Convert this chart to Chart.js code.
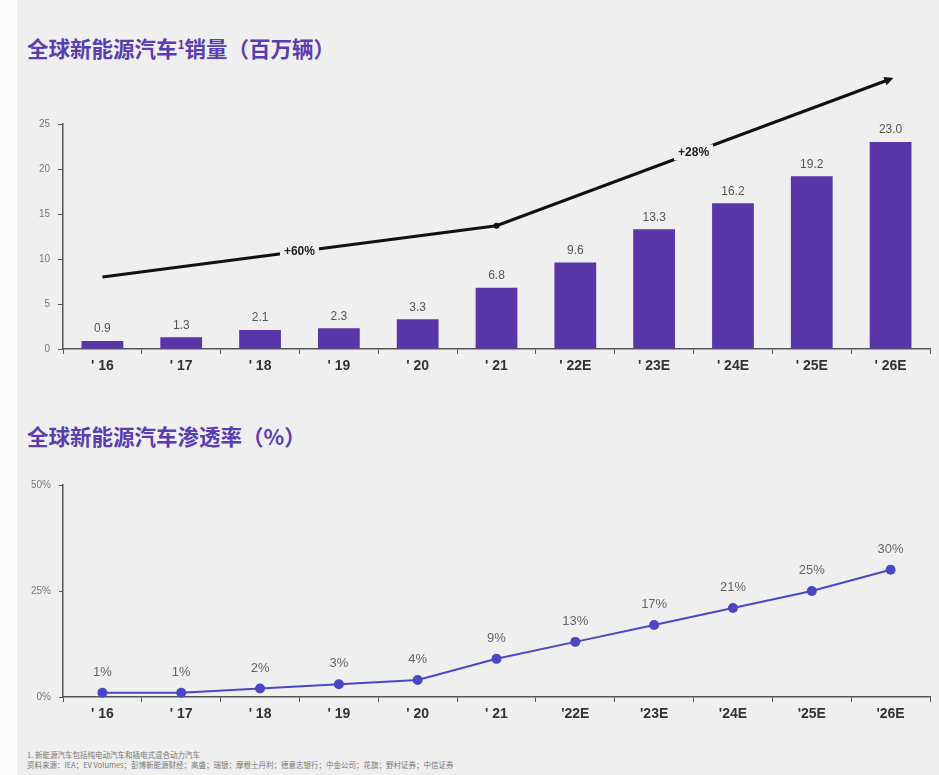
<!DOCTYPE html>
<html>
<head>
<meta charset="utf-8">
<script src="https://cdn.jsdelivr.net/npm/chart.js@4.4.1/dist/chart.umd.min.js"></script>
<style>
  body { margin: 0; width: 939px; height: 775px; background: #efefef; position: relative; overflow: hidden;
         font-family: "Liberation Sans", Arial, sans-serif; }
  .strip { position: absolute; left: 0; top: 0; width: 17px; height: 775px; background: #fcfcfc; }
  .title { position: absolute; left: 27px; font-family: "Noto Sans CJK SC", sans-serif; font-weight: 700;
           font-size: 21.5px; line-height: 24px; color: #5a3db0; white-space: nowrap; }
  .title sup { font-size: 12px; vertical-align: 8px; line-height: 0; }
  .box { position: absolute; left: 0; width: 939px; }
  .note { position: absolute; left: 27px; top: 750px; font-family: "Noto Sans CJK SC", sans-serif;
          font-size: 7.5px; line-height: 10px; color: #777; white-space: nowrap; }
</style>
</head>
<body>
<div class="strip"></div>
<div class="title" style="top:36px">全球新能源汽车<sup>1</sup>销量（百万辆）</div>
<div class="box" style="top:60px;height:330px"><canvas id="salesChart"></canvas></div>
<div class="title" style="top:424px">全球新能源汽车渗透率（%）</div>
<div class="box" style="top:460px;height:280px"><canvas id="shareChart"></canvas></div>
<div class="note">1. 新能源汽车包括纯电动汽车和插电式混合动力汽车<br>资料来源：IEA；EV Volumes；彭博新能源财经；高盛；瑞银；摩根士丹利；德意志银行；中金公司；花旗；野村证券；中信证券</div>

<script>
// 销量（百万辆）
const salesYears = ["' 16", "' 17", "' 18", "' 19", "' 20", "' 21", "' 22E", "' 23E", "' 24E", "' 25E", "' 26E"];
const salesValues = [0.9, 1.3, 2.1, 2.3, 3.3, 6.8, 9.6, 13.3, 16.2, 19.2, 23.0];
// CAGR 箭头：起点、转折点、终点
const trendValues = [8.0, null, null, null, null, 13.7, null, null, null, null, 30.0];
const cagrLabels = ['+60%', '+28%'];
const salesTicks = [0, 5, 10, 15, 20, 25];

// 渗透率（%）
const shareYears = ["' 16", "' 17", "' 18", "' 19", "' 20", "' 21", "'22E", "'23E", "'24E", "'25E", "'26E"];
const shareValues = [1, 1, 2, 3, 4, 9, 13, 17, 21, 25, 30];
const shareTicks = [0, 25, 50];

const BG = '#efefef';
const PURPLE = '#5836a8';
const BLUE = '#4a47c4';
const AXIS = '#555';

const xAxis = (h) => ({
  offset: true,
  afterFit: s => { s.height = h; },
  grid: { offset: true, drawOnChartArea: false, tickLength: 5, tickColor: AXIS },
  border: { color: AXIS, width: 1.5 },
  ticks: { color: '#333', font: { size: 14, weight: 'bold' }, padding: 4, maxRotation: 0 }
});

// 柱顶数值 + CAGR 标签 + 箭头
const salesLabels = {
  id: 'salesLabels',
  afterDatasetsDraw(chart) {
    const ctx = chart.ctx;
    const bars = chart.getDatasetMeta(0).data;
    ctx.save();
    ctx.font = '12px "Liberation Sans", Arial';
    ctx.fillStyle = '#555';
    ctx.textAlign = 'center';
    ctx.textBaseline = 'bottom';
    bars.forEach((b, i) => ctx.fillText(salesValues[i].toFixed(1), b.x, b.y - 6));

    const pts = chart.getDatasetMeta(1).data.filter((p, i) => trendValues[i] !== null);
    // arrow head at the last point
    const a = pts[pts.length - 2], e = pts[pts.length - 1];
    const ang = Math.atan2(e.y - a.y, e.x - a.x);
    ctx.translate(e.x, e.y);
    ctx.rotate(ang);
    ctx.fillStyle = '#111';
    ctx.beginPath();
    ctx.moveTo(3, 0);
    ctx.lineTo(-6, -4.5);
    ctx.lineTo(-6, 4.5);
    ctx.closePath();
    ctx.fill();
    ctx.setTransform(1, 0, 0, 1, 0, 0);

    ctx.font = 'bold 12px "Liberation Sans", Arial';
    ctx.textBaseline = 'middle';
    for (let k = 0; k < pts.length - 1; k++) {
      const mx = (pts[k].x + pts[k + 1].x) / 2;
      const my = (pts[k].y + pts[k + 1].y) / 2;
      const w = ctx.measureText(cagrLabels[k]).width + 8;
      ctx.fillStyle = BG;
      ctx.fillRect(mx - w / 2, my - 8, w, 16);
      ctx.fillStyle = '#222';
      ctx.fillText(cagrLabels[k], mx, my);
    }
    ctx.restore();
  }
};

new Chart(document.getElementById('salesChart'), {
  type: 'bar',
  data: {
    labels: salesYears,
    datasets: [{
      data: salesValues,
      backgroundColor: PURPLE,
      barPercentage: 0.53,
      categoryPercentage: 1.0,
      order: 2
    }, {
      type: 'line',
      data: trendValues,
      spanGaps: true,
      clip: false,
      borderColor: '#111',
      borderWidth: 3,
      pointRadius: ctx => ctx.dataIndex === 5 ? 3 : 0,
      pointBackgroundColor: '#111',
      pointBorderWidth: 0,
      order: 1
    }]
  },
  options: {
    responsive: true,
    maintainAspectRatio: false,
    animation: false,
    layout: { padding: { top: 64, right: 9, left: 0, bottom: 0 } },
    plugins: { legend: { display: false }, tooltip: { enabled: false } },
    scales: {
      x: xAxis(41),
      y: {
        min: 0, max: 25,
        afterFit: s => { s.width = 63; },
        afterBuildTicks: s => { s.ticks = salesTicks.map(v => ({ value: v })); },
        grid: { drawOnChartArea: false, tickLength: 5, tickColor: AXIS },
        border: { color: AXIS, width: 1.5 },
        ticks: { color: '#777', font: { size: 10 }, padding: 8 }
      }
    }
  },
  plugins: [salesLabels]
});

const shareLabels = {
  id: 'shareLabels',
  afterDatasetsDraw(chart) {
    const ctx = chart.ctx;
    ctx.save();
    ctx.font = '13px "Liberation Sans", Arial';
    ctx.fillStyle = '#666';
    ctx.textAlign = 'center';
    ctx.textBaseline = 'bottom';
    chart.getDatasetMeta(0).data.forEach((p, i) => ctx.fillText(shareValues[i] + '%', p.x, p.y - 14));
    ctx.restore();
  }
};

new Chart(document.getElementById('shareChart'), {
  type: 'line',
  data: {
    labels: shareYears,
    datasets: [{
      data: shareValues,
      borderColor: BLUE,
      borderWidth: 2,
      pointRadius: 5,
      pointBackgroundColor: BLUE,
      pointBorderWidth: 0,
      clip: false
    }]
  },
  options: {
    responsive: true,
    maintainAspectRatio: false,
    animation: false,
    layout: { padding: { top: 25, right: 9, left: 0, bottom: 0 } },
    plugins: { legend: { display: false }, tooltip: { enabled: false } },
    scales: {
      x: xAxis(43),
      y: {
        min: 0, max: 50,
        afterFit: s => { s.width = 63; },
        afterBuildTicks: s => { s.ticks = shareTicks.map(v => ({ value: v })); },
        grid: { drawOnChartArea: false, tickLength: 4, tickColor: AXIS },
        border: { color: AXIS, width: 1.5 },
        ticks: { color: '#777', font: { size: 10 }, padding: 8, callback: v => v + '%' }
      }
    }
  },
  plugins: [shareLabels]
});
</script>
</body>
</html>
